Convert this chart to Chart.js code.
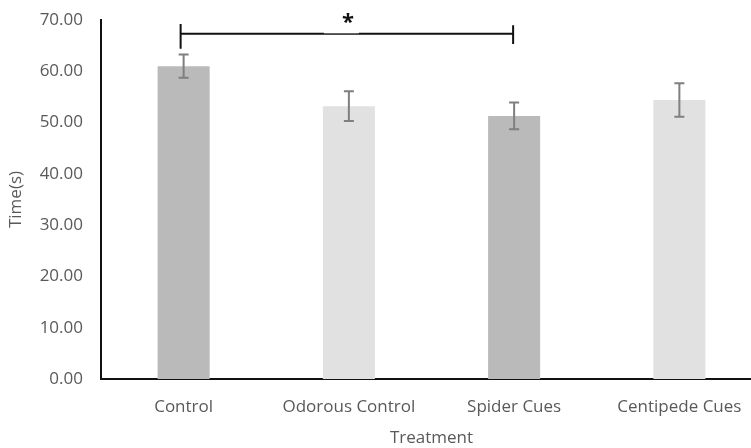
<!DOCTYPE html>
<html>
<head>
<meta charset="utf-8">
<script src="https://cdn.jsdelivr.net/npm/chart.js@4/dist/chart.umd.min.js"></script>
<style>
  html, body { margin: 0; padding: 0; background: #fff; overflow: hidden; }
  #wrap { width: 762px; height: 448px; }
</style>
</head>
<body>
<div id="wrap"><canvas id="chart" width="762" height="448"></canvas></div>
<script>
// data
const categories = ['Control', 'Odorous Control', 'Spider Cues', 'Centipede Cues'];
const meanTimes = [61.0, 53.2, 51.3, 54.4];
const errorSizes = [2.25, 2.9, 2.6, 3.25];
const barColors = ['#bababa', '#e1e1e1', '#bababa', '#e1e1e1'];
const yTicks = [0, 10, 20, 30, 40, 50, 60, 70];

// significance bracket between Control and Spider Cues
const bracket = { from: 0, to: 2, level: 67.3, leftTop: 69.2, leftBottom: 64.4, rightTop: 69.0, rightBottom: 65.3, label: '*' };

const font = "'Open Sans', sans-serif";

const errorBars = {
    id: 'errorBars',
    afterDatasetsDraw(chart) {
        const ctx = chart.ctx;
        const x = chart.scales.x, y = chart.scales.y;
        ctx.save();
        ctx.strokeStyle = '#7f7f7f';
        ctx.lineWidth = 2;
        meanTimes.forEach((m, i) => {
            const px = x.getPixelForValue(i);
            const top = y.getPixelForValue(m + errorSizes[i]);
            const bot = y.getPixelForValue(m - errorSizes[i]);
            ctx.beginPath();
            ctx.moveTo(px, top); ctx.lineTo(px, bot);
            ctx.moveTo(px - 5, top); ctx.lineTo(px + 5, top);
            ctx.moveTo(px - 5, bot); ctx.lineTo(px + 5, bot);
            ctx.stroke();
        });

        // bracket
        const x1 = x.getPixelForValue(bracket.from) - 3;
        const x2 = x.getPixelForValue(bracket.to) - 1;
        const ly = y.getPixelForValue(bracket.level);
        ctx.strokeStyle = '#111';
        ctx.lineWidth = 2;
        ctx.beginPath();
        ctx.moveTo(x1, ly); ctx.lineTo(x2, ly);
        ctx.moveTo(x1, y.getPixelForValue(bracket.leftTop)); ctx.lineTo(x1, y.getPixelForValue(bracket.leftBottom));
        ctx.moveTo(x2, y.getPixelForValue(bracket.rightTop)); ctx.lineTo(x2, y.getPixelForValue(bracket.rightBottom));
        ctx.stroke();
        // white label box behind the asterisk
        const mid = (x1 + x2) / 2 + 1;
        ctx.fillStyle = '#fff';
        ctx.fillRect(mid - 24, ly - 10, 35, 9.5);
        ctx.fillStyle = '#111';
        ctx.font = "bold 22px " + font;
        ctx.textAlign = 'center';
        ctx.textBaseline = 'middle';
        ctx.fillText(bracket.label, mid, ly - 11);
        ctx.restore();
    }
};

new Chart(document.getElementById('chart'), {
    type: 'bar',
    data: {
        labels: categories,
        datasets: [{
            data: meanTimes,
            backgroundColor: barColors,
            borderWidth: 0,
            barPercentage: 0.63,
            categoryPercentage: 0.5
        }]
    },
    options: {
        responsive: false,
        animation: false,
        layout: { padding: { top: 20, left: 0, right: 0, bottom: 0 } },
        plugins: { legend: { display: false }, tooltip: { enabled: false } },
        scales: {
            x: {
                grid: { display: false, drawTicks: false },
                border: { display: true, color: '#111', width: 2 },
                ticks: { color: '#595959', font: { family: font, size: 17 }, padding: 18 },
                title: { display: true, text: 'Treatment', color: '#595959', font: { family: font, size: 17 }, padding: { top: 2, bottom: 0 } },
                afterFit(scale) { scale.height = 69; scale.paddingLeft = 0; scale.paddingRight = 0; }
            },
            y: {
                min: 0,
                max: 70,
                afterBuildTicks(scale) { scale.ticks = yTicks.map(v => ({ value: v })); },
                grid: { display: false, drawTicks: false },
                border: { display: true, color: '#111', width: 2 },
                ticks: {
                    color: '#595959',
                    font: { family: font, size: 17 },
                    padding: 18,
                    callback: v => v.toFixed(2)
                },
                title: { display: true, text: 'Time(s)', color: '#595959', font: { family: font, size: 17 }, padding: { top: 6, bottom: 0 } },
                afterFit(scale) { scale.width = 101; scale.paddingTop = 0; scale.paddingBottom = 0; }
            }
        }
    },
    plugins: [errorBars]
});
</script>
</body>
</html>
